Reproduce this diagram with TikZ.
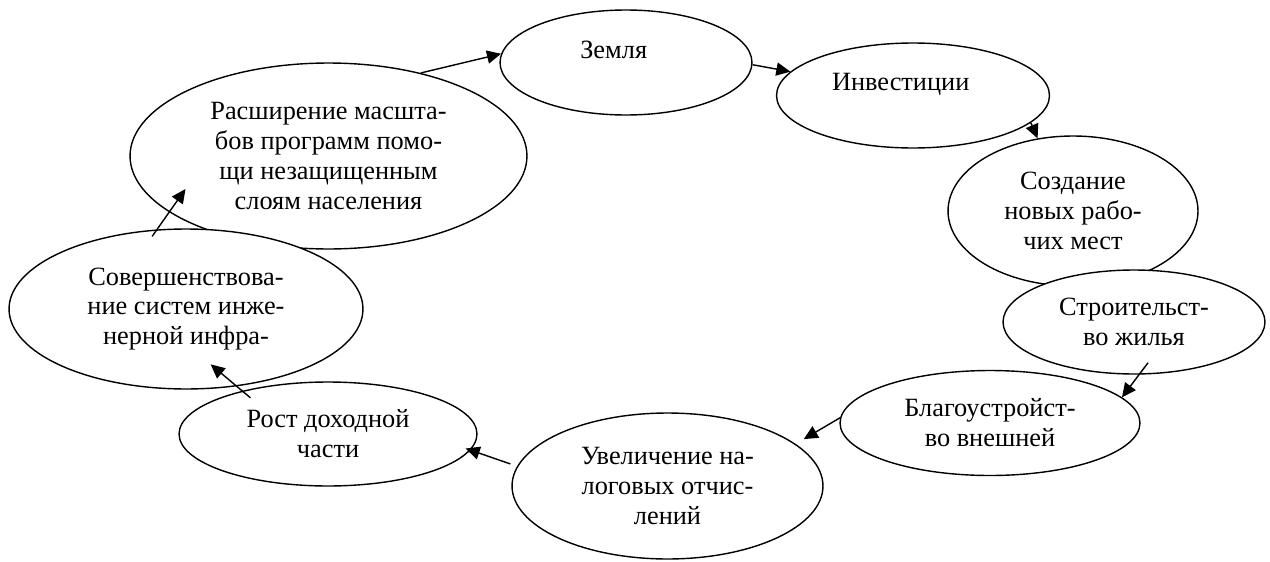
\documentclass[tikz,border=0pt]{standalone}
\usepackage{fontspec}
\setmainfont{Liberation Serif}
\usetikzlibrary{arrows.meta,calc,shapes.geometric}

\begin{document}
\begin{tikzpicture}[x=0.02cm,y=-0.02cm]
% Styles
\tikzstyle{bulle}=[draw,ellipse,fill=white,line width=0.8pt,inner sep=0pt,align=center,font=\fontsize{15}{17}\selectfont]
\tikzstyle{haut}=[text depth=15pt,execute at end node={\hspace*{14pt}}]
\tikzstyle{fleche}=[-{Triangle[length=8pt,width=7.5pt]},line width=0.8pt]
% Cadre
\useasboundingbox (0,0) rectangle (1270,561);
% Noeuds
\node[bulle,minimum width=7.94cm,minimum height=3.72cm] (Pomosch) at (328.5,156) {Расширение масшта-\\бов программ помо-\\щи незащищенным\\слоям населения};
\node[bulle,minimum width=7.08cm,minimum height=3.2cm] (Infra) at (186,309) {Совершенствова-\\ние систем инже-\\нерной инфра-};
\node[bulle,haut,minimum width=5.04cm,minimum height=2.1cm] (Zemlya) at (626,62.5) {Земля};
\node[bulle,haut,minimum width=5.46cm,minimum height=2.1cm] (Invest) at (913,95.5) {Инвестиции};
\node[bulle,minimum width=5cm,minimum height=3cm] (Rabota) at (1073,211) {Создание\\новых рабо-\\чих мест};
\node[bulle,minimum width=5.24cm,minimum height=2.08cm] (Zhilye) at (1134,322) {Строительст-\\во жилья};
\node[bulle,minimum width=6cm,minimum height=2.1cm] (Blago) at (990,423) {Благоустройст-\\во внешней};
\node[bulle,minimum width=6.22cm,minimum height=2.92cm] (Nalogi) at (667.5,486) {Увеличение на-\\логовых отчис-\\лений};
\node[bulle,minimum width=5.96cm,minimum height=2.08cm] (Dokhod) at (328,434) {Рост доходной\\части};
% Arcs
\draw[fleche] (Pomosch.42) -- (Zemlya.176);
\draw[fleche] (Zemlya.-1) -- (Invest.169);
\draw[fleche] (Invest.-13) -- (Rabota.116);
\draw[fleche] ($(Zhilye.center)!0.78!(Zhilye.-71)$) -- (Blago.11);
\draw[fleche] (Blago.178) -- ($(Nalogi.center)!1.08!(Nalogi.19)$);
\draw[fleche] ($(Nalogi.center)!1.05!(Nalogi.172)$) -- ($(Dokhod.center)!0.96!(Dokhod.-6)$);
\draw[fleche] ($(Dokhod.center)!0.86!(Dokhod.155)$) -- ($(Infra.center)!0.70!(Infra.-66)$);
\draw[fleche] ($(Infra.center)!0.92!(Infra.115)$) -- ($(Pomosch.center)!0.80!(Pomosch.193)$);
\end{tikzpicture}
\end{document}
